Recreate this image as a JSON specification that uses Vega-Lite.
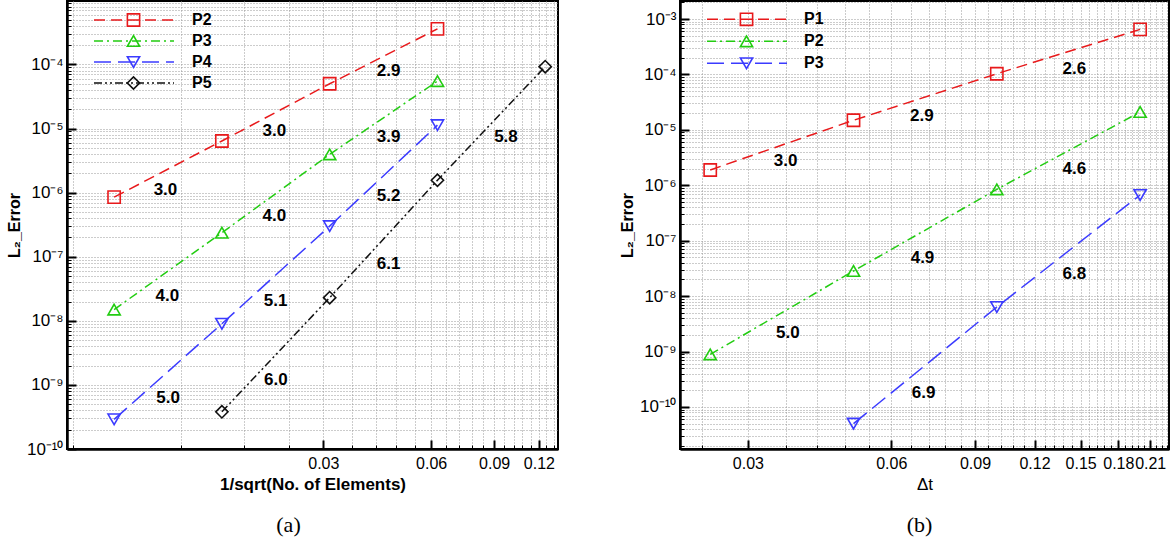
{
  "$schema": "https://vega.github.io/schema/vega-lite/v6.json",
  "background": "white",
  "padding": {"left": 5, "top": 0, "right": 0, "bottom": 0},
  "spacing": 122,
  "bounds": "flush",
  "config": {
    "view": {"stroke": "black", "strokeWidth": 2},
    "font": "Liberation Sans"
  },
  "datasets": {
    "a": [
      {"series": "P2", "x": 0.0078125, "y": 8.5e-7},
      {"series": "P2", "x": 0.015625, "y": 6.4e-6},
      {"series": "P2", "x": 0.03125, "y": 5.0e-5},
      {"series": "P2", "x": 0.0625, "y": 3.6e-4},
      {"series": "P3", "x": 0.0078125, "y": 1.5e-8},
      {"series": "P3", "x": 0.015625, "y": 2.37e-7},
      {"series": "P3", "x": 0.03125, "y": 3.96e-6},
      {"series": "P3", "x": 0.0625, "y": 5.5e-5},
      {"series": "P4", "x": 0.0078125, "y": 2.9e-10},
      {"series": "P4", "x": 0.015625, "y": 9.0e-9},
      {"series": "P4", "x": 0.03125, "y": 3.0e-7},
      {"series": "P4", "x": 0.0625, "y": 1.13e-5},
      {"series": "P5", "x": 0.015625, "y": 3.8e-10},
      {"series": "P5", "x": 0.03125, "y": 2.3e-8},
      {"series": "P5", "x": 0.0625, "y": 1.56e-6},
      {"series": "P5", "x": 0.125, "y": 9.25e-5}
    ],
    "b": [
      {"series": "P1", "x": 0.025, "y": 1.89e-6},
      {"series": "P1", "x": 0.05, "y": 1.49e-5},
      {"series": "P1", "x": 0.1, "y": 1.03e-4},
      {"series": "P1", "x": 0.2, "y": 6.5e-4},
      {"series": "P2", "x": 0.025, "y": 8.9e-10},
      {"series": "P2", "x": 0.05, "y": 2.84e-8},
      {"series": "P2", "x": 0.1, "y": 8.45e-7},
      {"series": "P2", "x": 0.2, "y": 2.1e-5},
      {"series": "P3", "x": 0.05, "y": 5.0e-11},
      {"series": "P3", "x": 0.1, "y": 6.37e-9},
      {"series": "P3", "x": 0.2, "y": 6.68e-7}
    ],
    "la": [
      {"x": 0.01087, "y": 1.09e-6, "t": "3.0"},
      {"x": 0.02189, "y": 9.17e-6, "t": "3.0"},
      {"x": 0.04566, "y": 7.9e-5, "t": "2.9"},
      {"x": 0.04566, "y": 7.38e-6, "t": "3.9"},
      {"x": 0.04566, "y": 8.87e-7, "t": "5.2"},
      {"x": 0.0971, "y": 7.38e-6, "t": "5.8"},
      {"x": 0.02189, "y": 4.31e-7, "t": "4.0"},
      {"x": 0.011, "y": 2.44e-8, "t": "4.0"},
      {"x": 0.02206, "y": 2.04e-8, "t": "5.1"},
      {"x": 0.04566, "y": 7.78e-8, "t": "6.1"},
      {"x": 0.0221, "y": 1.18e-9, "t": "6.0"},
      {"x": 0.01105, "y": 6.3e-10, "t": "5.0"}
    ],
    "lb": [
      {"x": 0.1455, "y": 1.236e-4, "t": "2.6"},
      {"x": 0.0696, "y": 1.78e-5, "t": "2.9"},
      {"x": 0.036, "y": 2.74e-6, "t": "3.0"},
      {"x": 0.1455, "y": 1.94e-6, "t": "4.6"},
      {"x": 0.0698, "y": 4.81e-8, "t": "4.9"},
      {"x": 0.1455, "y": 2.47e-8, "t": "6.8"},
      {"x": 0.0364, "y": 2.19e-9, "t": "5.0"},
      {"x": 0.0702, "y": 1.81e-10, "t": "6.9"}
    ]
  },
  "resolve": {
    "scale": {"color": "independent", "stroke": "independent", "shape": "independent", "strokeDash": "independent", "x": "independent", "y": "independent"},
    "legend": {"color": "independent", "stroke": "independent", "shape": "independent", "strokeDash": "independent"}
  },
  "hconcat": [
    {
      "width": 491,
      "height": 448,
      "title": {"text": "(a)", "orient": "bottom", "anchor": "middle", "font": "Liberation Serif", "fontSize": 22, "fontWeight": "normal", "color": "black", "offset": 23, "dx": -24},
      "layer": [
        {
          "data": {"name": "a"},
          "mark": {"type": "line", "strokeWidth": 1.5, "clip": true},
          "encoding": {
            "x": {
              "field": "x", "type": "quantitative",
              "scale": {"type": "log", "domain": [0.00577, 0.1357], "nice": false},
              "axis": {
                "title": "1/sqrt(No. of Elements)",
                "titleFont": "Liberation Sans", "titleFontSize": 17, "titleFontWeight": "bold", "titleColor": "black",
                "titleY": 35, "titleBaseline": "middle",
                "values": [0.006, 0.012, 0.018, 0.024, 0.03, 0.036, 0.042, 0.048, 0.054, 0.06, 0.066, 0.072, 0.078, 0.084, 0.09, 0.096, 0.102, 0.108, 0.114, 0.12, 0.126, 0.132],
                "labelExpr": "abs(datum.value/0.03-round(datum.value/0.03))<1e-6 ? format(datum.value,'.2f') : ''",
                "labelFont": "Liberation Sans", "labelFontSize": 16, "labelColor": "black",
                "labelPadding": 15, "labelOverlap": false, "labelFlush": false,
                "tickColor": "black",
                "tickSize": {"condition": {"test": "abs(datum.value/0.03-round(datum.value/0.03))<1e-6", "value": -9}, "value": -4},
                "tickWidth": {"condition": {"test": "abs(datum.value/0.03-round(datum.value/0.03))<1e-6", "value": 2}, "value": 1},
                "grid": true, "gridColor": "#999999", "gridDash": [1, 2], "gridWidth": 1,
                "domainColor": "black", "domainWidth": 2.5
              }
            },
            "y": {
              "field": "y", "type": "quantitative",
              "scale": {"type": "log", "domain": [1e-10, 9.78e-4], "nice": false},
              "axis": {
                "title": "L₂_Error",
                "titleFont": "Liberation Sans", "titleFontSize": 16, "titleFontWeight": "bold", "titleColor": "black",
                "titleX": -53, "titleY": 224, "titleAngle": -90, "titleAlign": "center", "titleBaseline": "middle",
                "values": [1e-10, 2e-10, 3e-10, 4e-10, 5e-10, 6e-10, 7e-10, 8e-10, 9e-10, 1e-9, 2e-9, 3e-9, 4e-9, 5e-9, 6e-9, 7e-9, 8e-9, 9e-9, 1e-8, 2e-8, 3e-8, 4e-8, 5e-8, 6e-8, 7e-8, 8e-8, 9e-8, 1e-7, 2e-7, 3e-7, 4e-7, 5e-7, 6e-7, 7e-7, 8e-7, 9e-7, 1e-6, 2e-6, 3e-6, 4e-6, 5e-6, 6e-6, 7e-6, 8e-6, 9e-6, 1e-5, 2e-5, 3e-5, 4e-5, 5e-5, 6e-5, 7e-5, 8e-5, 9e-5, 1e-4, 2e-4, 3e-4, 4e-4, 5e-4, 6e-4, 7e-4, 8e-4, 9e-4],
                "labelExpr": "abs(log(datum.value)/LN10-round(log(datum.value)/LN10))<1e-6 ? '10'+['⁰','⁻¹','⁻²','⁻³','⁻⁴','⁻⁵','⁻⁶','⁻⁷','⁻⁸','⁻⁹','⁻¹⁰','⁻¹¹'][-round(log(datum.value)/LN10)] : ''",
                "labelFont": "Liberation Sans", "labelColor": "black",
                "labelFontSize": {"condition": {"test": "abs(log(datum.value)/LN10-round(log(datum.value)/LN10))<1e-6", "value": 17}, "value": 0},
                "labelPadding": 13, "labelOverlap": false, "labelFlush": false,
                "tickColor": "black",
                "tickSize": {"condition": {"test": "abs(log(datum.value)/LN10-round(log(datum.value)/LN10))<1e-6", "value": -9}, "value": -4},
                "tickWidth": {"condition": {"test": "abs(log(datum.value)/LN10-round(log(datum.value)/LN10))<1e-6", "value": 2}, "value": 1},
                "grid": true, "gridColor": "#999999", "gridDash": [1, 2], "gridWidth": 1,
                "domainColor": "black", "domainWidth": 2.5
              }
            },
            "color": {
              "field": "series", "type": "nominal",
              "scale": {"domain": ["P2", "P3", "P4", "P5"], "range": ["#e8191b", "#22cc11", "#3b3bff", "#111111"]},
              "legend": {"orient": "none", "legendX": 19, "legendY": 11, "title": null, "direction": "vertical", "symbolType": "M0,0H16", "symbolSize": 100, "symbolStrokeWidth": 1.5, "labelFont": "Liberation Sans", "labelFontSize": 16, "labelFontWeight": "bold", "labelColor": "black", "labelOffset": 90, "clipHeight": 16, "rowPadding": 5, "padding": 0}
            },
            "strokeDash": {
              "field": "series", "type": "nominal",
              "scale": {"domain": ["P2", "P3", "P4", "P5"], "range": [[11, 6], [9, 4, 2, 4], [17, 7], [8, 3, 2, 3, 2, 3]]},
              "legend": {"orient": "none", "legendX": 19, "legendY": 11, "title": null, "direction": "vertical", "symbolType": "M0,0H16", "symbolSize": 100, "symbolStrokeWidth": 1.5, "labelFont": "Liberation Sans", "labelFontSize": 16, "labelFontWeight": "bold", "labelColor": "black", "labelOffset": 90, "clipHeight": 16, "rowPadding": 5, "padding": 0}
            }
          }
        },
        {
          "data": {"name": "a"},
          "mark": {"type": "point", "filled": false, "size": 150, "strokeWidth": 1.6, "opacity": 1},
          "encoding": {
            "x": {"field": "x", "type": "quantitative", "scale": {"type": "log", "domain": [0.00577, 0.1357], "nice": false}},
            "y": {"field": "y", "type": "quantitative", "scale": {"type": "log", "domain": [1e-10, 9.78e-4], "nice": false}},
            "stroke": {
              "field": "series", "type": "nominal",
              "scale": {"range": ["#e8191b", "#22cc11", "#3b3bff", "#111111"]},
              "legend": {"orient": "none", "legendX": 58.5, "legendY": 11, "title": null, "direction": "vertical", "symbolSize": 150, "symbolStrokeWidth": 1.6, "symbolFillColor": "transparent", "labelFontSize": 16, "labelOpacity": 0, "clipHeight": 16, "rowPadding": 5, "padding": 0}
            },
            "shape": {
              "field": "series", "type": "nominal",
              "scale": {"range": ["square", "triangle-up", "triangle-down", "diamond"]},
              "legend": {"orient": "none", "legendX": 58.5, "legendY": 11, "title": null, "direction": "vertical", "symbolSize": 150, "symbolStrokeWidth": 1.6, "symbolFillColor": "transparent", "labelFontSize": 16, "labelOpacity": 0, "clipHeight": 16, "rowPadding": 5, "padding": 0}
            }
          }
        },
        {
          "data": {"name": "la"},
          "mark": {"type": "text", "font": "Liberation Sans", "fontSize": 17, "fontWeight": "bold", "color": "black", "align": "center", "baseline": "middle"},
          "encoding": {
            "x": {"field": "x", "type": "quantitative", "scale": {"type": "log", "domain": [0.00577, 0.1357], "nice": false}},
            "y": {"field": "y", "type": "quantitative", "scale": {"type": "log", "domain": [1e-10, 9.78e-4], "nice": false}},
            "text": {"field": "t", "type": "nominal"}
          }
        }
      ]
    },
    {
      "width": 489,
      "height": 448,
      "title": {"text": "(b)", "orient": "bottom", "anchor": "middle", "font": "Liberation Serif", "fontSize": 22, "fontWeight": "normal", "color": "black", "offset": 23, "dx": -5},
      "layer": [
        {
          "data": {"name": "b"},
          "mark": {"type": "line", "strokeWidth": 1.5, "clip": true},
          "encoding": {
            "x": {
              "field": "x", "type": "quantitative",
              "scale": {"type": "log", "domain": [0.0216, 0.23], "nice": false},
              "axis": {
                "title": "Δt",
                "titleFont": "Liberation Sans", "titleFontSize": 17, "titleFontWeight": "normal", "titleColor": "black",
                "titleY": 35, "titleBaseline": "middle",
                "values": [0.024, 0.03, 0.036, 0.042, 0.048, 0.054, 0.06, 0.066, 0.072, 0.078, 0.084, 0.09, 0.096, 0.102, 0.108, 0.114, 0.12, 0.126, 0.132, 0.138, 0.144, 0.15, 0.156, 0.162, 0.168, 0.174, 0.18, 0.186, 0.192, 0.198, 0.204, 0.21, 0.216, 0.222, 0.228],
                "labelExpr": "abs(datum.value/0.03-round(datum.value/0.03))<1e-6 ? format(datum.value,'.2f') : ''",
                "labelFont": "Liberation Sans", "labelFontSize": 16, "labelColor": "black",
                "labelPadding": 15, "labelOverlap": false, "labelFlush": false,
                "tickColor": "black",
                "tickSize": {"condition": {"test": "abs(datum.value/0.03-round(datum.value/0.03))<1e-6", "value": -9}, "value": -4},
                "tickWidth": {"condition": {"test": "abs(datum.value/0.03-round(datum.value/0.03))<1e-6", "value": 2}, "value": 1},
                "grid": true, "gridColor": "#999999", "gridDash": [1, 2], "gridWidth": 1,
                "domainColor": "black", "domainWidth": 2.5
              }
            },
            "y": {
              "field": "y", "type": "quantitative",
              "scale": {"type": "log", "domain": [1.746e-11, 2.113e-3], "nice": false},
              "axis": {
                "title": "L₂_Error",
                "titleFont": "Liberation Sans", "titleFontSize": 16, "titleFontWeight": "bold", "titleColor": "black",
                "titleX": -53, "titleY": 224, "titleAngle": -90, "titleAlign": "center", "titleBaseline": "middle",
                "values": [2e-11, 3e-11, 4e-11, 5e-11, 6e-11, 7e-11, 8e-11, 9e-11, 1e-10, 2e-10, 3e-10, 4e-10, 5e-10, 6e-10, 7e-10, 8e-10, 9e-10, 1e-9, 2e-9, 3e-9, 4e-9, 5e-9, 6e-9, 7e-9, 8e-9, 9e-9, 1e-8, 2e-8, 3e-8, 4e-8, 5e-8, 6e-8, 7e-8, 8e-8, 9e-8, 1e-7, 2e-7, 3e-7, 4e-7, 5e-7, 6e-7, 7e-7, 8e-7, 9e-7, 1e-6, 2e-6, 3e-6, 4e-6, 5e-6, 6e-6, 7e-6, 8e-6, 9e-6, 1e-5, 2e-5, 3e-5, 4e-5, 5e-5, 6e-5, 7e-5, 8e-5, 9e-5, 1e-4, 2e-4, 3e-4, 4e-4, 5e-4, 6e-4, 7e-4, 8e-4, 9e-4, 1e-3, 2e-3],
                "labelExpr": "abs(log(datum.value)/LN10-round(log(datum.value)/LN10))<1e-6 ? '10'+['⁰','⁻¹','⁻²','⁻³','⁻⁴','⁻⁵','⁻⁶','⁻⁷','⁻⁸','⁻⁹','⁻¹⁰','⁻¹¹'][-round(log(datum.value)/LN10)] : ''",
                "labelFont": "Liberation Sans", "labelColor": "black",
                "labelFontSize": {"condition": {"test": "abs(log(datum.value)/LN10-round(log(datum.value)/LN10))<1e-6", "value": 17}, "value": 0},
                "labelPadding": 13, "labelOverlap": false, "labelFlush": false,
                "tickColor": "black",
                "tickSize": {"condition": {"test": "abs(log(datum.value)/LN10-round(log(datum.value)/LN10))<1e-6", "value": -9}, "value": -4},
                "tickWidth": {"condition": {"test": "abs(log(datum.value)/LN10-round(log(datum.value)/LN10))<1e-6", "value": 2}, "value": 1},
                "grid": true, "gridColor": "#999999", "gridDash": [1, 2], "gridWidth": 1,
                "domainColor": "black", "domainWidth": 2.5
              }
            },
            "color": {
              "field": "series", "type": "nominal",
              "scale": {"domain": ["P1", "P2", "P3"], "range": ["#e8191b", "#22cc11", "#3b3bff"]},
              "legend": {"orient": "none", "legendX": 19, "legendY": 10.3, "title": null, "direction": "vertical", "symbolType": "M0,0H16", "symbolSize": 100, "symbolStrokeWidth": 1.5, "labelFont": "Liberation Sans", "labelFontSize": 16, "labelFontWeight": "bold", "labelColor": "black", "labelOffset": 89, "clipHeight": 16, "rowPadding": 6, "padding": 0}
            },
            "strokeDash": {
              "field": "series", "type": "nominal",
              "scale": {"domain": ["P1", "P2", "P3"], "range": [[11, 6], [9, 4, 2, 4], [17, 7]]},
              "legend": {"orient": "none", "legendX": 19, "legendY": 10.3, "title": null, "direction": "vertical", "symbolType": "M0,0H16", "symbolSize": 100, "symbolStrokeWidth": 1.5, "labelFont": "Liberation Sans", "labelFontSize": 16, "labelFontWeight": "bold", "labelColor": "black", "labelOffset": 89, "clipHeight": 16, "rowPadding": 6, "padding": 0}
            }
          }
        },
        {
          "data": {"name": "b"},
          "mark": {"type": "point", "filled": false, "size": 150, "strokeWidth": 1.6, "opacity": 1},
          "encoding": {
            "x": {"field": "x", "type": "quantitative", "scale": {"type": "log", "domain": [0.0216, 0.23], "nice": false}},
            "y": {"field": "y", "type": "quantitative", "scale": {"type": "log", "domain": [1.746e-11, 2.113e-3], "nice": false}},
            "stroke": {
              "field": "series", "type": "nominal",
              "scale": {"range": ["#e8191b", "#22cc11", "#3b3bff"]},
              "legend": {"orient": "none", "legendX": 58.5, "legendY": 10.3, "title": null, "direction": "vertical", "symbolSize": 150, "symbolStrokeWidth": 1.6, "symbolFillColor": "transparent", "labelFontSize": 16, "labelOpacity": 0, "clipHeight": 16, "rowPadding": 6, "padding": 0}
            },
            "shape": {
              "field": "series", "type": "nominal",
              "scale": {"range": ["square", "triangle-up", "triangle-down"]},
              "legend": {"orient": "none", "legendX": 58.5, "legendY": 10.3, "title": null, "direction": "vertical", "symbolSize": 150, "symbolStrokeWidth": 1.6, "symbolFillColor": "transparent", "labelFontSize": 16, "labelOpacity": 0, "clipHeight": 16, "rowPadding": 6, "padding": 0}
            }
          }
        },
        {
          "data": {"name": "lb"},
          "mark": {"type": "text", "font": "Liberation Sans", "fontSize": 17, "fontWeight": "bold", "color": "black", "align": "center", "baseline": "middle"},
          "encoding": {
            "x": {"field": "x", "type": "quantitative", "scale": {"type": "log", "domain": [0.0216, 0.23], "nice": false}},
            "y": {"field": "y", "type": "quantitative", "scale": {"type": "log", "domain": [1.746e-11, 2.113e-3], "nice": false}},
            "text": {"field": "t", "type": "nominal"}
          }
        }
      ]
    }
  ]
}
